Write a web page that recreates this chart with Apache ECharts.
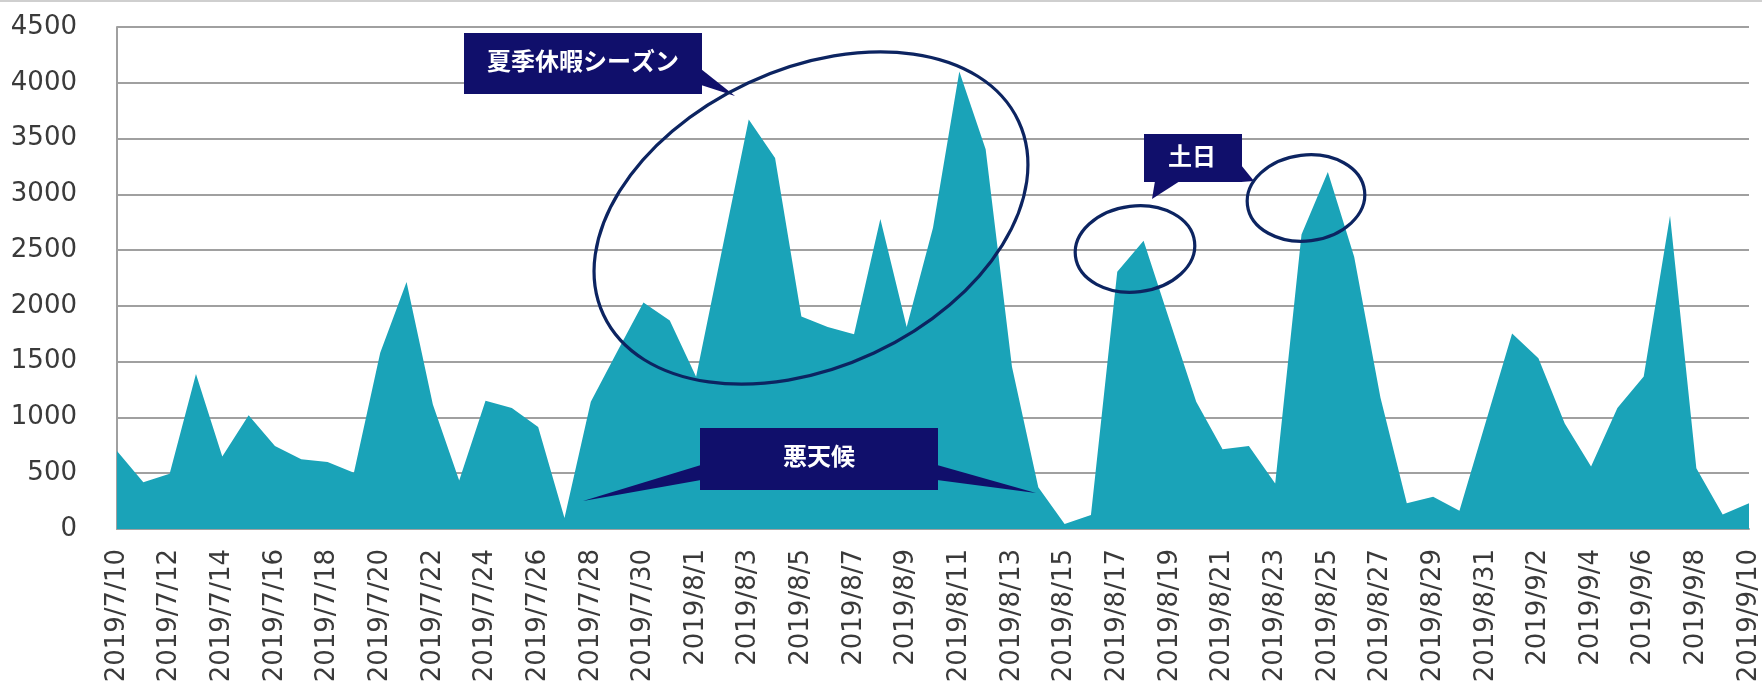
<!DOCTYPE html>
<html>
<head>
<meta charset="utf-8">
<script src="https://cdn.jsdelivr.net/npm/echarts@6/dist/echarts.min.js"></script>
<style>
  html, body { margin: 0; padding: 0; background: #fff; }
  #demo { width: 1762px; height: 689px; }
</style>
</head>
<body>
<div id="demo"></div>
<script>
// 日付（2019/7/10 〜 2019/9/10）
var dates = [
  '2019/7/10', '2019/7/11', '2019/7/12', '2019/7/13', '2019/7/14', '2019/7/15', '2019/7/16',
  '2019/7/17', '2019/7/18', '2019/7/19', '2019/7/20', '2019/7/21', '2019/7/22', '2019/7/23',
  '2019/7/24', '2019/7/25', '2019/7/26', '2019/7/27', '2019/7/28', '2019/7/29', '2019/7/30',
  '2019/7/31', '2019/8/1', '2019/8/2', '2019/8/3', '2019/8/4', '2019/8/5', '2019/8/6',
  '2019/8/7', '2019/8/8', '2019/8/9', '2019/8/10', '2019/8/11', '2019/8/12', '2019/8/13',
  '2019/8/14', '2019/8/15', '2019/8/16', '2019/8/17', '2019/8/18', '2019/8/19', '2019/8/20',
  '2019/8/21', '2019/8/22', '2019/8/23', '2019/8/24', '2019/8/25', '2019/8/26', '2019/8/27',
  '2019/8/28', '2019/8/29', '2019/8/30', '2019/8/31', '2019/9/1', '2019/9/2', '2019/9/3',
  '2019/9/4', '2019/9/5', '2019/9/6', '2019/9/7', '2019/9/8', '2019/9/9', '2019/9/10'
];

// 日別の値
var values = [
  700, 420, 495, 1390, 650, 1020, 745,
  625, 600, 505, 1580, 2215, 1115, 435,
  1150, 1085, 915, 98, 1140, 1590, 2030,
  1870, 1365, 2520, 3670, 3325, 1905, 1810,
  1745, 2780, 1810, 2700, 4100, 3405, 1455,
  375, 45, 125, 2305, 2585, 1860, 1140,
  714, 745, 407, 2640, 3200, 2440, 1177,
  231, 290, 164, 960, 1753, 1530, 946,
  561, 1084, 1368, 2809, 545, 129, 231
];

// 縦軸
var yTicks = [0, 500, 1000, 1500, 2000, 2500, 3000, 3500, 4000, 4500];

// 吹き出しのテキスト
var noteTexts = ['夏季休暇シーズン', '土日', '悪天候'];

var boxColor = '#100f6b';
var ringColor = '#0c2461';
var deg = Math.PI / 180;

function box(x, y, w, h) {
  return { type: 'rect', z: 100, shape: { x: x, y: y, width: w, height: h }, style: { fill: boxColor } };
}
function tail(points) {
  return { type: 'polygon', z: 100, shape: { points: points }, style: { fill: boxColor } };
}
function label(text, x, y) {
  return {
    type: 'text', z: 101, x: x, y: y,
    style: {
      text: text, fill: '#fff', fontSize: 24, fontWeight: 'bold',
      fontFamily: '"Noto Sans CJK JP", sans-serif', align: 'center', verticalAlign: 'middle'
    }
  };
}
function ring(cx, cy, rx, ry, rot) {
  return {
    type: 'ellipse', z: 102, x: cx, y: cy, rotation: rot * deg,
    shape: { cx: 0, cy: 0, rx: rx, ry: ry },
    style: { fill: null, stroke: ringColor, lineWidth: 3.2 }
  };
}

var myChart = echarts.init(document.getElementById('demo'));
myChart.setOption({
  animation: false,
  grid: { left: 117, right: 11, top: 27, bottom: 160 },
  xAxis: {
    type: 'category',
    boundaryGap: false,
    data: dates,
    axisLine: { lineStyle: { color: '#a0a0a0', width: 2 } },
    axisTick: { show: false },
    axisLabel: {
      interval: 1, rotate: 90, margin: 20,
      color: '#3a3a3a', fontSize: 26, fontFamily: '"DejaVu Sans", Verdana, sans-serif'
    }
  },
  yAxis: {
    type: 'value',
    min: yTicks[0], max: yTicks[yTicks.length - 1], interval: 500,
    axisLine: { show: true, lineStyle: { color: '#a0a0a0', width: 2 } },
    axisTick: { show: false },
    splitLine: { lineStyle: { color: '#a0a0a0', width: 2 } },
    axisLabel: {
      margin: 40, color: '#3a3a3a', fontSize: 26, fontFamily: '"DejaVu Sans", Verdana, sans-serif',
      formatter: function (v) { return String(v); }
    }
  },
  series: [{
    type: 'line',
    data: values,
    showSymbol: false,
    lineStyle: { width: 0 },
    areaStyle: { color: '#1aa3b8', opacity: 1 }
  }],
  graphic: [
    { type: 'line', z: 100, shape: { x1: 0, y1: 1, x2: 1762, y2: 1 }, style: { stroke: '#cfcfcf', lineWidth: 2 } },
    // 夏季休暇シーズン
    tail([[701, 69], [735, 96], [701, 85]]),
    box(464, 33, 238, 61),
    label(noteTexts[0], 583, 61),
    // 土日
    tail([[1155, 181], [1152, 199], [1180, 181]]),
    tail([[1241, 165], [1254, 181], [1241, 182]]),
    box(1144, 134, 98, 48),
    label(noteTexts[1], 1192, 156),
    // 悪天候
    tail([[701, 465], [583, 501], [701, 480]]),
    tail([[937, 465], [1036, 493], [937, 480]]),
    box(700, 428, 238, 62),
    label(noteTexts[2], 819, 456),
    // 丸
    ring(811, 218, 229, 149, 25),
    ring(1135, 249, 60, 43, 7),
    ring(1306, 198, 59, 43, 7)
  ]
});
</script>
</body>
</html>
